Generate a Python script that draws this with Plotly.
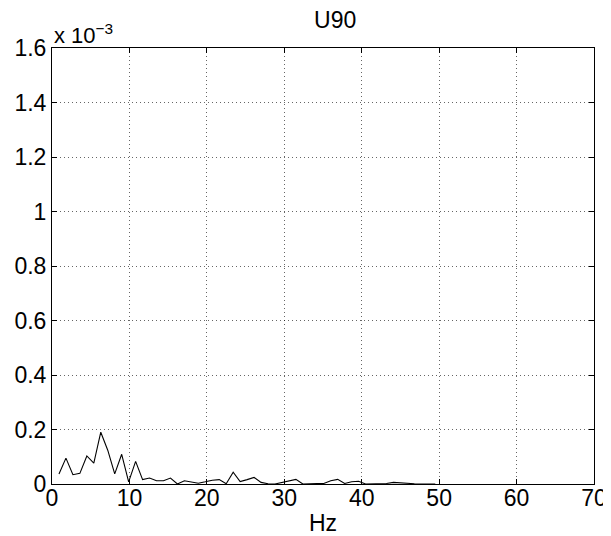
import plotly.graph_objects as go

# Frequencies (Hz) and amplitudes (in units of 1e-3)
freq_hz = [0.9, 1.8, 2.7, 3.6, 4.5, 5.4, 6.3, 7.2, 8.1, 9.0,
           9.9, 10.8, 11.7, 12.6, 13.5, 14.4, 15.3, 16.2, 17.1, 18.0,
           18.9, 19.8, 20.7, 21.6, 22.5, 23.4, 24.3, 25.2, 26.1, 27.0,
           27.9, 28.8, 29.7, 30.6, 31.5, 32.4, 33.3, 34.2, 35.1, 36.0,
           36.9, 37.8, 38.7, 39.6, 40.5, 41.4, 42.3, 43.2, 44.1, 45.0,
           45.9, 46.8, 47.7, 48.6, 49.5]
amp_e3 = [0.037, 0.095, 0.034, 0.039, 0.103, 0.077, 0.190, 0.124, 0.037, 0.109,
          0.008, 0.083, 0.016, 0.022, 0.012, 0.012, 0.022, 0.000, 0.012, 0.007,
          0.003, 0.008, 0.014, 0.016, 0.001, 0.043, 0.009, 0.016, 0.024, 0.006,
          0.001, 0.000, 0.005, 0.010, 0.017, 0.000, 0.002, 0.002, 0.002, 0.012,
          0.017, 0.002, 0.008, 0.010, 0.000, 0.001, 0.001, 0.002, 0.006, 0.004,
          0.001, 0.001, 0.000, 0.001, 0.000]

x_ticks = [0, 10, 20, 30, 40, 50, 60, 70]
y_ticks = [0, 0.2, 0.4, 0.6, 0.8, 1.0, 1.2, 1.4, 1.6]
y_tick_text = ["0", "0.2", "0.4", "0.6", "0.8", "1", "1.2", "1.4", "1.6"]

FONT = "Liberation Sans, Arial, sans-serif"
FS = 23

# The page body has an 8px margin, so the figure is offset by 8px.
W, H = 603, 528

fig = go.Figure()
fig.add_trace(go.Scatter(x=freq_hz, y=amp_e3, mode="lines",
                         line=dict(color="black", width=1.1), showlegend=False))

axis_common = dict(showline=True, linecolor="black", linewidth=1, mirror="ticks",
                   ticks="inside", ticklen=5, tickcolor="black", automargin=False,
                   showgrid=True, gridcolor="rgba(0,0,0,0.6)", griddash="1px,3px", gridwidth=1,
                   zeroline=False, tickfont=dict(family=FONT, size=FS, color="black"))

fig.update_xaxes(range=[0, 70], tickvals=x_ticks, ticktext=[str(v) for v in x_ticks],
                 ticklabelstandoff=-7,
                 title=dict(text="Hz", font=dict(family=FONT, size=FS, color="black"), standoff=5),
                 **axis_common)
fig.update_yaxes(range=[0, 1.6], tickvals=y_ticks, ticktext=y_tick_text, **axis_common)

fig.update_layout(
    width=W, height=H,
    margin=dict(l=44, r=17, t=40, b=52),
    plot_bgcolor="white", paper_bgcolor="white",
    title=dict(text="U90", x=(44 + (W - 17)) / 2 / W, xref="paper", xanchor="center",
               y=1 - 12 / H, yanchor="middle",
               font=dict(family=FONT, size=FS, color="black")),
    annotations=[dict(text="x 10<sup>\u22123</sup>", xref="paper", yref="paper",
                      x=0, y=1, xanchor="left", yanchor="bottom", showarrow=False,
                      font=dict(family=FONT, size=22, color="black"), yshift=-2)],
)

fig.write_html("out.html")
